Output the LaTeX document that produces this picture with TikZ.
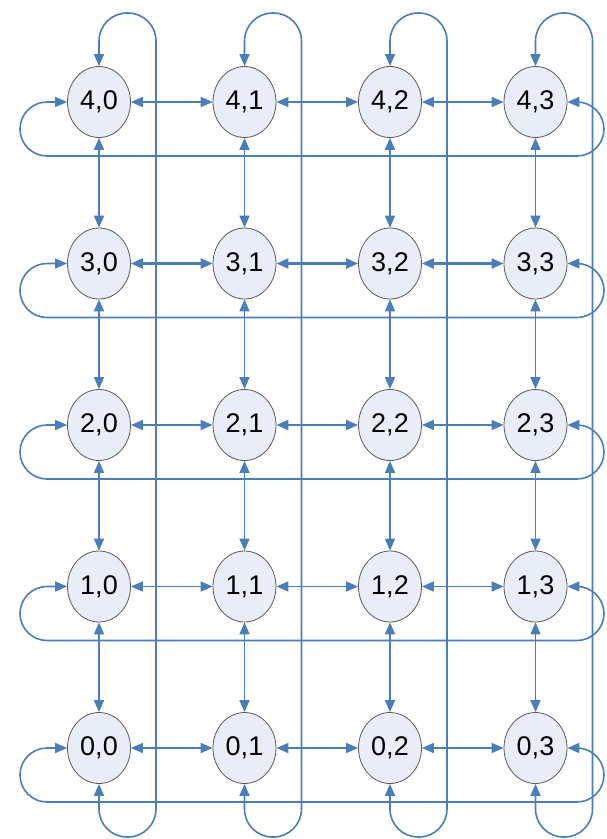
\documentclass[tikz,border=0pt]{standalone}
\usepackage{fontspec}
\setmainfont{Liberation Sans}
\usetikzlibrary{shapes.geometric,arrows.meta}
\definecolor{linkblue}{RGB}{74,126,187}
\definecolor{cellfill}{RGB}{233,237,247}

\begin{document}
\begin{tikzpicture}[x=1pt,y=-1pt,>={Triangle[length=12pt,width=10pt]},
  cell/.style={ellipse,draw=black!65,line width=0.8pt,fill=cellfill,
    minimum width=63pt,minimum height=71pt,inner sep=0pt,
    font=\fontsize{27}{30}\selectfont},
  link/.style={<->,draw=linkblue,line width=1.6pt},
  boldlink/.style={link,line width=2.3pt}]
\useasboundingbox (0,0) rectangle (606,839);
\coordinate (top) at (0,13);
\coordinate (right) at (604,0);
% the 5x4 grid
\foreach \row in {0,...,4}
  \foreach \col in {0,...,3}
    \node[cell] (n\row\col) at ({99+145.5*\col},{102+161.5*(4-\row)}) {\row,\col};
% neighbours in a row
\foreach \row/\sty in {0/link,1/link,2/link,3/boldlink,4/link}
  \foreach \ca/\cb in {0/1,1/2,2/3}
    \draw[\sty] (n\row\ca) -- (n\row\cb);
% neighbours in a column
\foreach \col in {0,...,3}
  \foreach \ra/\rb in {0/1,1/2,2/3,3/4}
    \draw[link] (n\ra\col) -- (n\rb\col);
% wrap-around, columns
\foreach \col in {0,...,3}
  \draw[link,rounded corners=28pt] (n4\col.north) -- (n4\col.north |- top)
    -- ++(57,0) -- ++(0,824) -- ++(-57,0) -- (n0\col.south);
% wrap-around, rows
\foreach \row in {0,...,4}
  \draw[link,rounded corners=27pt] (n\row3.east) -- (n\row3.east -| right)
    -- ++(0,54) -- ++(-584,0) -- ++(0,-54) -- (n\row0.west);
\end{tikzpicture}
\end{document}
